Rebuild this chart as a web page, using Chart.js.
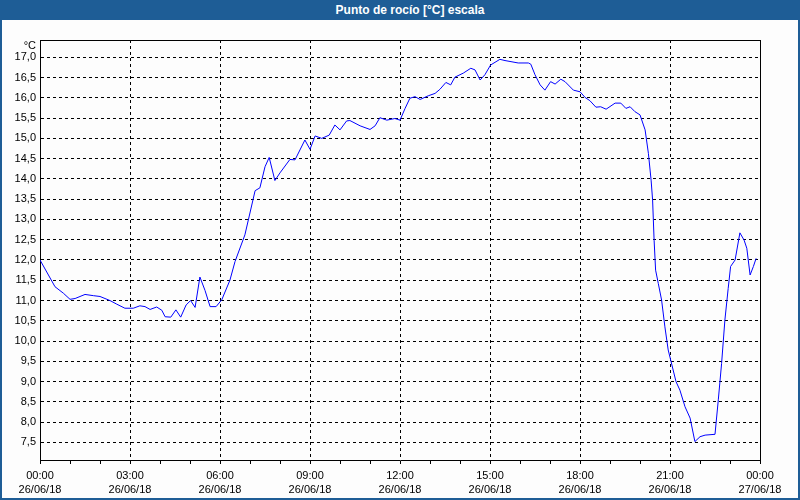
<!DOCTYPE html>
<html>
<head>
<meta charset="utf-8">
<script src="https://cdn.jsdelivr.net/npm/chart.js@4.4.0/dist/chart.umd.min.js"></script>
<style>
  html, body { margin: 0; padding: 0; background: #fdfdfd; }
  #wrap { position: relative; width: 800px; height: 500px; overflow: hidden; background: #fdfdfd; }
  #c { position: absolute; left: 0; top: 0; }
  #bar { position: absolute; left: 0; top: 0; width: 800px; height: 20px; background: #1e5d96; }
  #title { position: absolute; left: 410px; top: 0; transform: translateX(-50%); white-space: nowrap;
           font: bold 12px "Liberation Sans", Arial, sans-serif; line-height: 20px; color: #ffffff; }
  #frame { position: absolute; left: 0; top: 0; width: 796px; height: 498px; border-left: 2px solid #1e5d96;
           border-right: 2px solid #1e5d96; border-bottom: 2px solid #1e5d96; pointer-events: none; }
  #unit { position: absolute; right: 764px; top: 40px; font: 11px "Liberation Sans", Arial, sans-serif;
          line-height: 11px; color: #000; white-space: nowrap; }
</style>
</head>
<body>
<div id="wrap">
  <canvas id="c" width="800" height="500"></canvas>
  <div id="bar"></div>
  <div id="title">Punto de rocío [°C] escala</div>
  <div id="unit">°C</div>
  <div id="frame"></div>
</div>
<script>
// time in hours since 26/06/18 00:00
const hours = [0, 0.5, 0.78, 1.0, 1.17, 1.5, 1.78, 2.0, 2.33, 2.56, 2.83, 3.11, 3.33, 3.5, 3.67, 3.89, 4.06, 4.17, 4.36, 4.53, 4.69, 4.87, 5.02, 5.17, 5.33, 5.5, 5.67, 5.87, 6.06, 6.33, 6.5, 6.83, 7.17, 7.33, 7.5, 7.64, 7.83, 8.0, 8.33, 8.5, 8.83, 9.0, 9.17, 9.39, 9.64, 9.83, 10.0, 10.22, 10.33, 10.67, 11.0, 11.17, 11.33, 11.56, 11.83, 12.0, 12.17, 12.33, 12.5, 12.67, 12.94, 13.17, 13.33, 13.53, 13.69, 13.83, 14.11, 14.36, 14.5, 14.67, 14.83, 15.02, 15.33, 15.5, 15.94, 16.28, 16.36, 16.5, 16.67, 16.83, 17.02, 17.17, 17.36, 17.5, 17.78, 18.0, 18.17, 18.33, 18.53, 18.69, 18.87, 19.17, 19.36, 19.53, 19.67, 19.83, 20.0, 20.17, 20.28, 20.37, 20.42, 20.47, 20.52, 20.61, 20.72, 20.83, 20.94, 21.2, 21.33, 21.5, 21.67, 21.83, 22.0, 22.17, 22.5, 22.61, 22.72, 22.83, 22.94, 23.02, 23.17, 23.33, 23.47, 23.56, 23.67, 23.78, 23.87];
const dewPoint = [12.0, 11.34, 11.18, 11.03, 11.05, 11.15, 11.12, 11.1, 11.0, 10.91, 10.81, 10.81, 10.87, 10.85, 10.78, 10.84, 10.76, 10.6, 10.59, 10.77, 10.59, 10.89, 11.0, 10.83, 11.58, 11.25, 10.85, 10.85, 11.02, 11.5, 11.96, 12.62, 13.71, 13.78, 14.3, 14.53, 13.96, 14.15, 14.48, 14.47, 14.96, 14.73, 15.06, 15.0, 15.08, 15.33, 15.21, 15.43, 15.44, 15.31, 15.22, 15.31, 15.51, 15.45, 15.49, 15.45, 15.74, 15.99, 16.03, 15.96, 16.05, 16.11, 16.21, 16.38, 16.32, 16.51, 16.61, 16.73, 16.69, 16.44, 16.57, 16.81, 16.95, 16.92, 16.86, 16.86, 16.83, 16.57, 16.32, 16.19, 16.4, 16.34, 16.46, 16.4, 16.19, 16.15, 16.01, 15.93, 15.77, 15.78, 15.72, 15.87, 15.87, 15.74, 15.78, 15.66, 15.58, 15.21, 14.63, 13.97, 13.48, 12.49, 11.75, 11.42, 11.01, 10.35, 9.78, 9.0, 8.79, 8.38, 8.1, 7.52, 7.64, 7.68, 7.7, 8.55, 9.45, 10.52, 11.3, 11.84, 12.0, 12.67, 12.49, 12.29, 11.63, 11.84, 12.04];
const xTickHours = [0, 3, 6, 9, 12, 15, 18, 21, 24];
const xTickTimes = ['00:00', '03:00', '06:00', '09:00', '12:00', '15:00', '18:00', '21:00', '00:00'];
const xTickDates = ['26/06/18', '26/06/18', '26/06/18', '26/06/18', '26/06/18', '26/06/18', '26/06/18', '26/06/18', '27/06/18'];
const yTicks = [7.5, 8.0, 8.5, 9.0, 9.5, 10.0, 10.5, 11.0, 11.5, 12.0, 12.5, 13.0, 13.5, 14.0, 14.5, 15.0, 15.5, 16.0, 16.5, 17.0];

const points = hours.map((h, i) => ({ x: h, y: dewPoint[i] }));

const framePlugin = {
  id: 'frame',
  afterDraw(chart) {
    const a = chart.chartArea, ctx = chart.ctx;
    ctx.save();
    ctx.strokeStyle = '#000';
    ctx.lineWidth = 1;
    ctx.beginPath();
    ctx.moveTo(Math.round(a.left) + 0.5, Math.round(a.top) + 0.5);
    ctx.lineTo(Math.round(a.right) + 0.5, Math.round(a.top) + 0.5);
    ctx.lineTo(Math.round(a.right) + 0.5, Math.round(a.bottom) + 0.5);
    ctx.stroke();
    ctx.restore();
  }
};

const font = { family: '"Liberation Sans", Arial, sans-serif', size: 11 };
const xFont = { family: '"Liberation Sans", Arial, sans-serif', size: 11, lineHeight: 1.36 };

new Chart(document.getElementById('c'), {
  type: 'line',
  data: {
    datasets: [{
      data: points,
      borderColor: '#0000ff',
      borderWidth: 1,
      pointRadius: 0,
      tension: 0,
      fill: false
    }]
  },
  options: {
    responsive: false,
    animation: false,
    devicePixelRatio: 1,
    layout: { padding: { top: 40, right: 40, left: 0, bottom: 0 } },
    plugins: { legend: { display: false }, tooltip: { enabled: false }, title: { display: false } },
    scales: {
      x: {
        type: 'linear',
        min: 0, max: 24,
        afterBuildTicks(scale) {
          const t = [];
          for (let h = 0; h <= 24; h++) t.push({ value: h });
          scale.ticks = t;
        },
        afterFit(scale) { scale.height = 40; },
        ticks: {
          autoSkip: false, maxRotation: 0, minRotation: 0,
          color: '#000', font: xFont, padding: 4,
          callback(v) {
            const i = xTickHours.indexOf(v);
            return i >= 0 ? [xTickTimes[i], xTickDates[i]] : '';
          }
        },
        grid: {
          color: (ctx) => (ctx.tick && xTickHours.indexOf(ctx.tick.value) >= 0) ? '#000' : 'rgba(0,0,0,0)',
          lineWidth: 1,
          tickColor: '#000',
          tickLength: 4,
          drawTicks: true,
          tickBorderDash: []
        },
        border: { display: true, color: '#000', width: 1, dash: [3, 3] }
      },
      y: {
        type: 'linear',
        min: 7.066, max: 17.427,
        afterBuildTicks(scale) { scale.ticks = yTicks.map(v => ({ value: v })); },
        afterFit(scale) { scale.width = 40; },
        ticks: {
          color: '#000', font: font, padding: 4,
          callback(v) { return v.toFixed(1).replace('.', ','); }
        },
        grid: { color: '#000', lineWidth: 1, drawTicks: false },
        border: { display: true, color: '#000', width: 1, dash: [3, 3] }
      }
    }
  },
  plugins: [framePlugin]
});
</script>
</body>
</html>
